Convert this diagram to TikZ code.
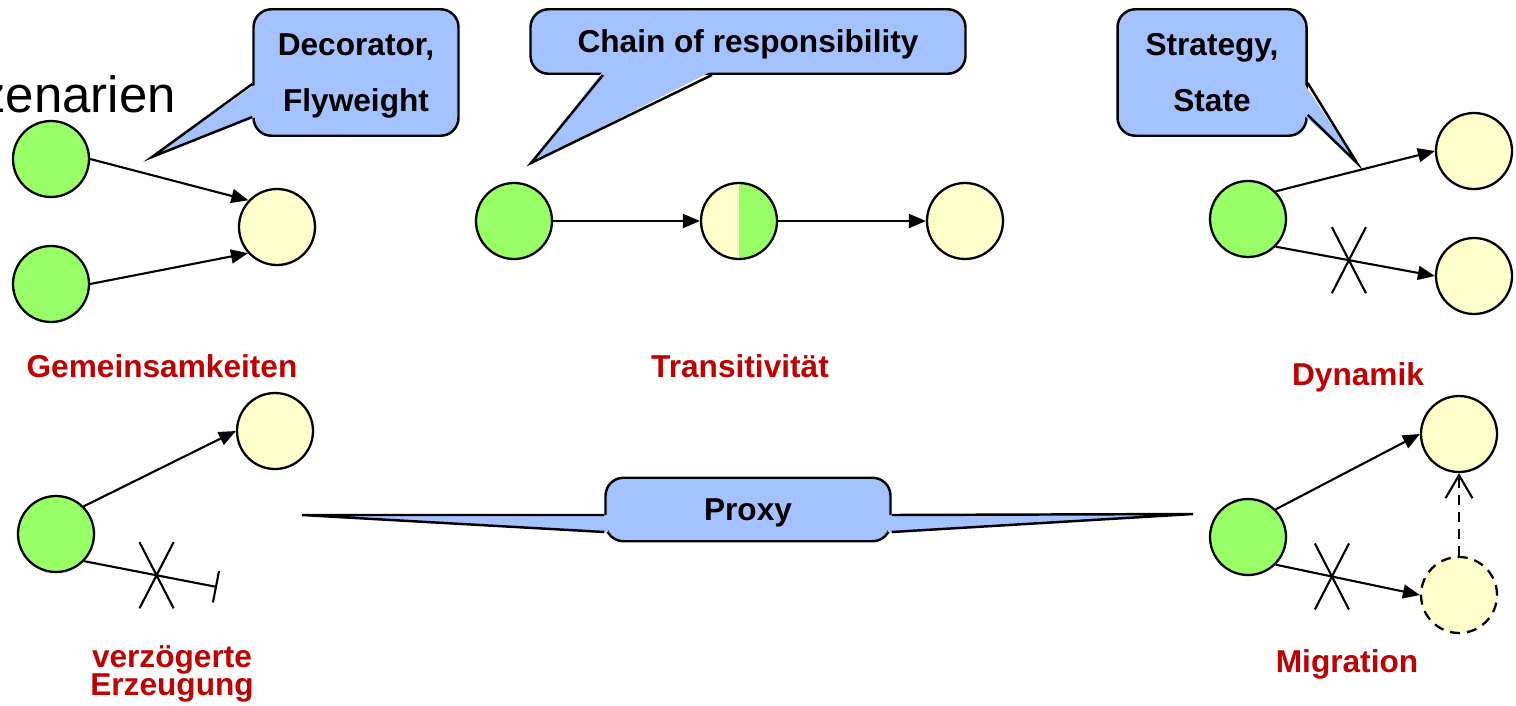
\documentclass[tikz,border=0pt]{standalone}
\usepackage{fontspec}
\setmainfont{Liberation Sans}
\usepackage{tikz}
\usetikzlibrary{arrows.meta,positioning,calc,shapes.misc}
\definecolor{cGreen}{HTML}{99FF66}
\definecolor{cCream}{HTML}{FFFFCC}
\definecolor{cSky}{HTML}{A4C2FF}
\definecolor{cRed}{HTML}{C00000}
\tikzset{
  obj/.style={circle,draw=black,fill=#1,line width=1.3pt,minimum size=1.52cm,inner sep=0pt},
  obj/.default=cCream,
  callout/.style={draw=black,fill=cSky,rounded corners=0.36cm,line width=1.4pt,align=center,font=\fontsize{18}{32}\selectfont\bfseries,inner sep=0pt,text depth=0pt},
  tipline/.style={line width=1.4pt},
  arr/.style={-{Triangle[length=0.34cm,width=0.28cm]},line width=1.2pt},
  lbl/.style={font=\fontsize{18}{20}\selectfont\bfseries,text=cRed,anchor=base},
  xmark/.style={arrows=-,cross out,draw,line width=1.2pt,minimum width=0.64cm,minimum height=1.28cm,inner sep=0pt},
}

\begin{document}
\begin{tikzpicture}[x=1cm,y=1cm,
    half/.style={obj,path picture={\fill[cGreen] (path picture bounding box.north) rectangle (path picture bounding box.south east);}},
    ghost/.style={obj,dash pattern=on 0.2cm off 0.14cm}]
  \useasboundingbox (0,0) rectangle (30.32,14.10);
  \node[font=\fontsize{29}{32}\selectfont,anchor=base east] (title) at (3.64,11.86) {Szenarien};

  % Gemeinsamkeiten
  \node[obj=cGreen] (ga) at (1.02,10.92) {};
  \node[obj=cGreen] (gb) at (1.02,8.42) {};
  \node[obj] (ya) at (5.54,9.56) {};
  \draw[arr] (ga.east) -- (ya.137);
  \draw[arr] (gb.east) -- (ya.222);
  \node[callout,minimum width=4.1cm,minimum height=2.53cm] (deco) at (7.12,12.65) {Decorator,\\Flyweight};
  \coordinate (decotip) at (3.04,10.96);
  \fill[cSky] ([shift={(0.08,-0.23)}]deco.west) -- (decotip) -- ([shift={(0.08,-0.89)}]deco.west) -- cycle;
  \draw[tipline] ([yshift=-0.23cm]deco.west) -- (decotip) -- ([yshift=-0.89cm]deco.west);
  \node[lbl] (lga) at (3.24,6.56) {Gemeinsamkeiten};

  % Transitivitaet
  \node[obj=cGreen] (gc) at (10.28,9.68) {};
  \node[half] (hc) at (14.78,9.68) {};
  \node[obj] (yc) at (19.30,9.68) {};
  \draw[arr] (gc) -- (hc);
  \draw[arr] (hc) -- (yc);
  \node[callout,minimum width=8.7cm,minimum height=1.29cm] (chain) at (14.96,13.27) {Chain of responsibility};
  \coordinate (chaintip) at (10.62,10.84);
  \fill[cSky] ([shift={(-2.9,0.08)}]chain.south) -- (chaintip) -- ([shift={(-0.72,0.08)}]chain.south) -- cycle;
  \draw[tipline] ([xshift=-2.9cm]chain.south) -- (chaintip) -- ([xshift=-0.72cm]chain.south);
  \node[lbl] (lgc) at (14.80,6.56) {Transitivität};

  % Dynamik
  \node[obj=cGreen] (gd) at (24.96,9.72) {};
  \node[obj] (yd1) at (29.48,11.08) {};
  \node[obj] (yd2) at (29.48,8.58) {};
  \draw[arr] (gd.45) -- (yd1.west);
  \draw[arr] (gd.-45) -- node[xmark,pos=0.46] {} (yd2.west);
  \node[callout,minimum width=3.78cm,minimum height=2.53cm] (strat) at (24.24,12.65) {Strategy,\\State};
  \coordinate (strattip) at (27.14,10.84);
  \fill[cSky] ([shift={(-0.08,-0.21)}]strat.east) -- (strattip) -- ([shift={(-0.08,-0.85)}]strat.east) -- cycle;
  \draw[tipline] ([yshift=-0.21cm]strat.east) -- (strattip) -- ([yshift=-0.85cm]strat.east);
  \node[lbl] (lgd) at (27.16,6.40) {Dynamik};

  % verzoegerte Erzeugung
  \node[obj=cGreen] (ge) at (1.12,3.42) {};
  \node[obj] (ye) at (5.50,5.48) {};
  \coordinate (stub) at (4.34,2.36);
  \draw[arr] (ge.45) -- (ye.west);
  \draw[-{Bar[width=0.64cm]},line width=1.2pt] (ge.-44) -- node[xmark,pos=0.545] {} (stub);
  \node[lbl] (lge1) at (3.44,0.76) {verzögerte};
  \node[lbl] (lge2) at (3.44,0.20) {Erzeugung};

  % Migration
  \node[obj=cGreen] (gf) at (24.96,3.36) {};
  \node[obj] (yf1) at (29.18,5.42) {};
  \node[ghost] (yf2) at (29.18,2.20) {};
  \draw[arr] (gf.45) -- (yf1.west);
  \draw[arr] (gf.-45) -- node[xmark,pos=0.39] {} (yf2.west);
  \draw[-{Straight Barb[length=0.46cm,width=0.54cm]},line width=1.2pt,dash pattern=on 0.2cm off 0.14cm] (yf2) -- (yf1);
  \node[lbl] (lgf) at (26.94,0.66) {Migration};

  % Proxy
  \node[callout,minimum width=5.7cm,minimum height=1.27cm] (proxy) at (14.96,3.91) {Proxy};
  \coordinate (ptipl) at (6.04,3.80);
  \coordinate (ptipr) at (23.86,3.82);
  \fill[cSky] ([shift={(0.08,-0.11)}]proxy.west) -- (ptipl) -- ([shift={(0.08,-0.45)}]proxy.west) -- cycle;
  \draw[tipline] ([yshift=-0.11cm]proxy.west) -- (ptipl) -- ([yshift=-0.45cm]proxy.west);
  \fill[cSky] ([shift={(-0.08,-0.11)}]proxy.east) -- (ptipr) -- ([shift={(-0.08,-0.45)}]proxy.east) -- cycle;
  \draw[tipline] ([yshift=-0.11cm]proxy.east) -- (ptipr) -- ([yshift=-0.45cm]proxy.east);
\end{tikzpicture}
\end{document}
